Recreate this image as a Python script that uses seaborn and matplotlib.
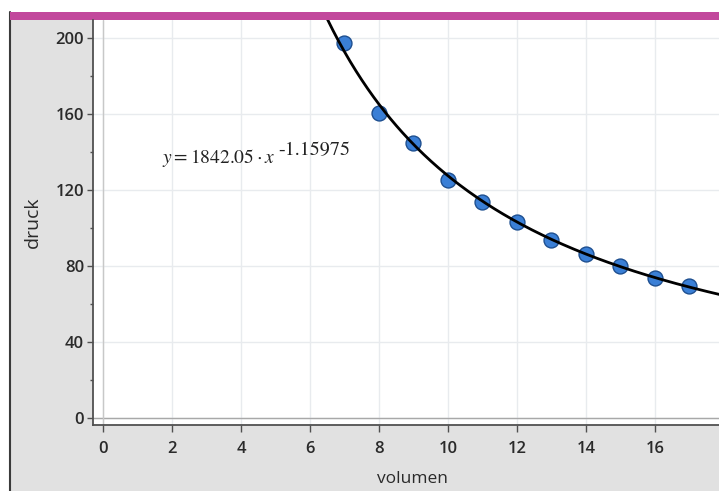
import numpy as np
import pandas as pd
import matplotlib
matplotlib.use("Agg")
import matplotlib.pyplot as plt
import seaborn as sns

# ── DATA ──────────────────────────────────────────────────────────────────────
volumen = [7, 8, 9, 10, 11, 12, 13, 14, 15, 16, 17]
druck = [197.5, 160.7, 144.6, 125.3, 113.8, 103.3, 93.7, 86.3, 80.2, 73.8, 69.6]

# power regression shown in the chart: y = a * x^b
FIT_A = 1842.05
FIT_B = -1.15975

x_ticks = [0, 2, 4, 6, 8, 10, 12, 14, 16]
y_ticks = [0, 40, 80, 120, 160, 200]
y_minor = [20, 60, 100, 140, 180]

# ── STYLE ─────────────────────────────────────────────────────────────────────
BG_GRAY = "#e1e1e1"
PINK = "#c2489c"
DOT_FACE = "#3a7fd6"
DOT_EDGE = "#1e4f90"
GRID = "#e8ebee"
SPINE = "#505050"
TEXT = "#2a2a2a"

sns.set_theme(style="white")
plt.rcParams["font.family"] = ["Open Sans", "DejaVu Sans"]
plt.rcParams["mathtext.fontset"] = "stix"

fig = plt.figure(figsize=(7.19, 4.91), dpi=100, facecolor="white")

# gray calculator panel + dark left border (behind the axes)
fig.patches.append(plt.Rectangle((10 / 719, 0), 1, 1 - 20 / 491,
                                 transform=fig.transFigure, facecolor=BG_GRAY,
                                 edgecolor="none", zorder=-2))
fig.lines.append(plt.Line2D([10 / 719, 10 / 719], [0, 1 - 12 / 491],
                            transform=fig.transFigure, color="#3a3a3a", lw=1.5,
                            zorder=-1))
# pink title bar
fig.patches.append(plt.Rectangle((10 / 719, 1 - 20 / 491), 1, 8 / 491,
                                 transform=fig.transFigure, facecolor=PINK,
                                 edgecolor="none", zorder=-1))

ax = fig.add_axes([93 / 719, 1 - 425 / 491, 1 - 93 / 719, (425 - 20) / 491])
ax.set_facecolor("white")

df = pd.DataFrame({"volumen": volumen, "druck": druck})
sns.scatterplot(data=df, x="volumen", y="druck", ax=ax, s=115,
                color=DOT_FACE, edgecolor=DOT_EDGE, linewidth=1.0, zorder=3)

xs = np.linspace(6.0, 18.5, 300)
fit = pd.DataFrame({"x": xs, "y": FIT_A * xs ** FIT_B})
sns.lineplot(data=fit, x="x", y="y", ax=ax, color="black", lw=2.0, zorder=4)

ax.set_xlim(-0.29, 17.86)
ax.set_ylim(-3.7, 209.5)

ax.set_xticks(x_ticks)
ax.set_yticks(y_ticks)
ax.set_yticks(y_minor, minor=True)
ax.grid(True, which="major", color=GRID, lw=1.0, zorder=0)
ax.axhline(0, color="#a8a8a8", lw=1.0, zorder=1)
ax.axvline(0, color="#c8c8c8", lw=1.0, zorder=1)

for side in ["top", "right"]:
    ax.spines[side].set_visible(False)
for side in ["left", "bottom"]:
    ax.spines[side].set_color(SPINE)
    ax.spines[side].set_linewidth(1.3)

ax.tick_params(axis="x", which="major", direction="out", length=5,
               width=1.0, color=SPINE, labelsize=12, labelcolor=TEXT,
               bottom=True, pad=6.5)
ax.tick_params(axis="y", which="major", direction="out", length=4.5,
               width=1.0, color=SPINE, labelsize=12, labelcolor=TEXT,
               left=True, pad=2)
ax.tick_params(axis="y", which="minor", direction="out", length=2.5,
               width=1.0, color=SPINE, left=True)
for lab in ax.get_xticklabels() + ax.get_yticklabels():
    lab.set_fontweight("semibold")

ax.set_xlabel("volumen", fontsize=12.5, color=TEXT)
ax.set_ylabel("druck", fontsize=14, color=TEXT)
ax.xaxis.set_label_coords(0.51, -0.114)
ax.yaxis.set_label_coords(-0.081, 0.50)

# regression equation
ax.text(1.70, 134.2, r"$y = 1842.05\cdot x$", fontsize=14, color="#222222",
        ha="left", va="baseline")
ax.text(5.07, 138.4, "-1.15975", fontsize=14.5, color="#222222",
        family="STIXGeneral", ha="left", va="baseline")

fig.savefig("out.png", dpi=100, facecolor="white")
